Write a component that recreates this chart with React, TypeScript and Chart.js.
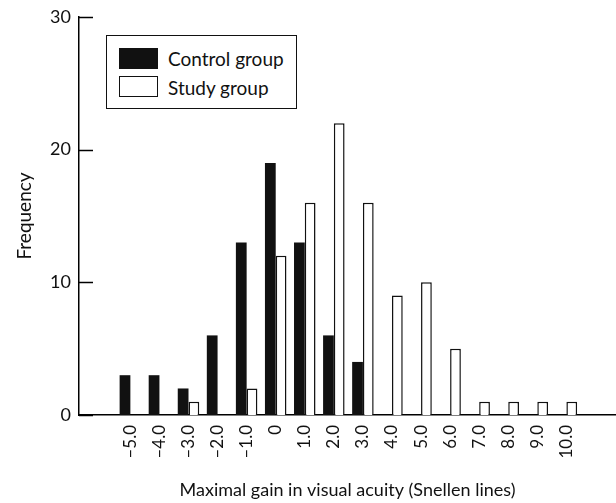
import React, { useEffect, useRef } from 'react';
import { Chart, registerables } from 'chart.js';

Chart.register(...registerables);

const categories = [-5, -4, -3, -2, -1, 0, 1, 2, 3, 4, 5, 6, 7, 8, 9, 10];
const tickLabels = ['–5.0', '–4.0', '–3.0', '–2.0', '–1.0', '0', '1.0', '2.0', '3.0', '4.0', '5.0', '6.0', '7.0', '8.0', '9.0', '10.0'];
const controlGroup = [3, 3, 2, 6, 13, 19, 13, 6, 4, 0, 0, 0, 0, 0, 0, 0];
const studyGroup = [0, 0, 1, 0, 2, 12, 16, 22, 16, 9, 10, 5, 1, 1, 1, 1];
const yTicks = [0, 10, 20, 30];

const FONT = 'Lato, "Open Sans", sans-serif';

const innerTicks = {
  id: 'innerTicks',
  afterDraw(chart: any) {
    const ys = chart.scales.y;
    const ctx = chart.ctx;
    const left = chart.chartArea.left;
    ctx.save();
    ctx.strokeStyle = '#000';
    ctx.lineWidth = 1.5;
    yTicks.forEach((v) => {
      const py = Math.round(ys.getPixelForValue(v)) + 0.5;
      ctx.beginPath();
      ctx.moveTo(left, py);
      ctx.lineTo(left + 14, py);
      ctx.stroke();
    });
    ctx.restore();
  },
};

export default function App() {
  const ref = useRef<HTMLCanvasElement | null>(null);

  useEffect(() => {
    if (!ref.current) return;
    const chart = new Chart(ref.current, {
      type: 'bar',
      data: {
        datasets: [
          {
            label: 'Control group',
            data: categories.map((c, i) => ({ x: c, y: controlGroup[i] })),
            backgroundColor: '#111111',
            borderWidth: 0,
            categoryPercentage: 0.74,
            barPercentage: 1.0,
          },
          {
            label: 'Study group',
            data: categories.map((c, i) => ({ x: c, y: studyGroup[i] })),
            backgroundColor: '#ffffff',
            borderColor: '#111111',
            borderWidth: 1.5,
            categoryPercentage: 0.74,
            barPercentage: 1.0,
          },
        ],
      },
      options: {
        responsive: false,
        animation: false,
        layout: { padding: { top: 17, right: 0, bottom: 0, left: 0 } },
        plugins: {
          legend: { display: false },
          tooltip: { enabled: false },
        },
        scales: {
          x: {
            type: 'linear',
            min: -6.19,
            max: 11.13,
            afterBuildTicks: (scale: any) => {
              scale.ticks = categories.map((v) => ({ value: v }));
            },
            afterFit: (scale: any) => {
              scale.height = 88;
              scale.paddingLeft = 0;
              scale.paddingRight = 0;
            },
            grid: { display: false, drawTicks: false },
            border: { display: true, color: '#000', width: 1.5 },
            ticks: {
              autoSkip: false,
              minRotation: 90,
              maxRotation: 90,
              padding: 10,
              color: '#111',
              font: { family: FONT, size: 17 },
              callback: (v: any) => {
                const idx = categories.indexOf(Number(v));
                return idx >= 0 ? tickLabels[idx] : '';
              },
            },
            title: {
              display: true,
              text: 'Maximal gain in visual acuity (Snellen lines)',
              color: '#111',
              font: { family: FONT, size: 18 },
              padding: 2,
            },
          },
          y: {
            min: 0,
            max: 30,
            afterBuildTicks: (scale: any) => {
              scale.ticks = yTicks.map((v) => ({ value: v }));
            },
            afterFit: (scale: any) => {
              scale.width = 79;
              scale.paddingTop = 0;
              scale.paddingBottom = 0;
            },
            grid: { display: false, drawTicks: false },
            border: { display: true, color: '#000', width: 1.5 },
            ticks: {
              padding: 8,
              color: '#111',
              font: { family: FONT, size: 18 },
            },
            title: {
              display: true,
              text: 'Frequency',
              color: '#111',
              font: { family: FONT, size: 19 },
              padding: 13,
            },
          },
        },
      },
      plugins: [innerTicks],
    });
    return () => chart.destroy();
  }, []);

  const swatch = (fill: string): React.CSSProperties => ({
    position: 'absolute',
    left: 12,
    width: 37,
    height: 19,
    background: fill,
    border: '1px solid #111',
  });

  return (
    <div style={{ position: 'absolute', left: 0, top: 0, width: 616, height: 503, background: '#fff' }}>
      <canvas ref={ref} width={616} height={503} style={{ display: 'block' }} />
      <div
        style={{
          position: 'absolute',
          left: 106,
          top: 35,
          width: 189,
          height: 72,
          border: '1px solid #111',
          background: '#fff',
          fontFamily: FONT,
          fontSize: 19,
          color: '#111',
        }}
      >
        <div style={{ ...swatch('#111'), top: 12 }} />
        <div style={{ ...swatch('#fff'), top: 40 }} />
        <div style={{ position: 'absolute', left: 61, top: 12, lineHeight: '22px', whiteSpace: 'nowrap' }}>Control group</div>
        <div style={{ position: 'absolute', left: 61, top: 41, lineHeight: '22px', whiteSpace: 'nowrap' }}>Study group</div>
      </div>
    </div>
  );
}
